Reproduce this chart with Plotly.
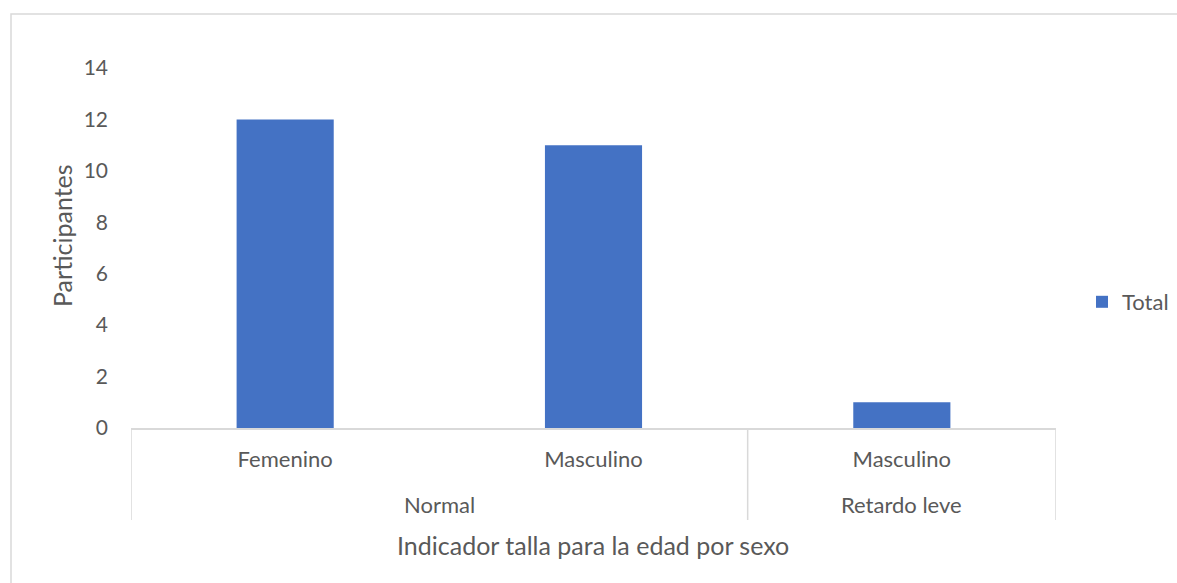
import plotly.graph_objects as go

# Datos
grupos = ["Normal", "Normal", "Retardo leve"]
sexo = ["Femenino", "Masculino", "Masculino"]
total = [12, 11, 1]

y_ticks = [0, 2, 4, 6, 8, 10, 12, 14]

azul = "#4472C4"
gris_texto = "#595959"
gris_linea = "#d9d9d9"
fuente = "Lato"

W, H = 1177, 583
L, T = 131, 68
R = W - 1056
B = H - 428
pw = W - L - R
ph = H - T - B


def py(px_y):
    # posición vertical en píxeles -> coordenadas paper
    return (H - B - px_y) / ph


def pxp(px_x):
    return (px_x - L) / pw


posiciones = list(range(len(sexo)))

fig = go.Figure()

fig.add_trace(
    go.Bar(
        x=posiciones,
        y=total,
        name="Total",
        marker=dict(color=azul, line=dict(width=0)),
        showlegend=True,
    )
)

# etiquetas de grupo y divisores (eje multinivel al estilo Excel)
bordes = [-0.5]
nombres_grupo = []
for i, g in enumerate(grupos):
    if i == 0 or g != grupos[i - 1]:
        nombres_grupo.append([g, i, i])
    else:
        nombres_grupo[-1][2] = i
for g, ini, fin in nombres_grupo:
    bordes.append(fin + 0.5)
    fig.add_annotation(
        x=(ini + fin) / 2, y=py(505), xref="x", yref="paper",
        text=g, showarrow=False, font=dict(size=22, color=gris_texto),
        yanchor="middle",
    )

for b in bordes:
    fig.add_shape(
        type="line", xref="x", yref="paper",
        x0=b, x1=b, y0=0, y1=py(520),
        line=dict(color=gris_linea, width=1.5),
    )

# títulos de los ejes
fig.add_annotation(
    x=pxp(593), y=py(545), xref="paper", yref="paper",
    text="Indicador talla para la edad por sexo", showarrow=False,
    font=dict(size=25, color=gris_texto), yanchor="middle",
)
fig.add_annotation(
    x=pxp(62), y=py(236), xref="paper", yref="paper",
    text="Participantes", showarrow=False, textangle=-90,
    font=dict(size=25, color=gris_texto), xanchor="center", yanchor="middle",
)

fig.update_layout(
    width=W,
    height=H,
    margin=dict(l=L, r=R, t=T, b=B, autoexpand=False),
    plot_bgcolor="white",
    paper_bgcolor="white",
    bargap=0.685,
    font=dict(family=fuente, size=22, color=gris_texto),
    showlegend=True,
    legend=dict(
        x=pxp(1082),
        y=py(302),
        yanchor="middle",
        xanchor="left",
        font=dict(size=22, color=gris_texto),
        bgcolor="rgba(0,0,0,0)",
    ),
    xaxis=dict(
        range=[-0.5, len(sexo) - 0.5],
        tickvals=posiciones,
        ticktext=sexo,
        showline=True,
        linecolor=gris_linea,
        linewidth=1.5,
        ticks="",
        ticklabelstandoff=11,
        tickfont=dict(size=22, color=gris_texto),
        showgrid=False,
        zeroline=False,
        automargin=False,
    ),
    yaxis=dict(
        range=[0, 14],
        tickvals=y_ticks,
        showgrid=False,
        zeroline=False,
        showline=False,
        ticks="",
        ticklabelstandoff=22,
        tickfont=dict(size=21, color=gris_texto),
        automargin=False,
    ),
)

# borde del área del gráfico
fig.add_shape(
    type="rect",
    xref="paper", yref="paper",
    x0=pxp(11), x1=pxp(1200),
    y0=py(600), y1=py(14),
    line=dict(color=gris_linea, width=1.5),
    fillcolor="rgba(0,0,0,0)",
    layer="below",
)

# sin margen del body ni barras de desplazamiento
fig.write_html(
    "out.html",
    config={"displayModeBar": False},
    post_script="document.body.style.margin='0';document.body.style.overflow='hidden';",
)
